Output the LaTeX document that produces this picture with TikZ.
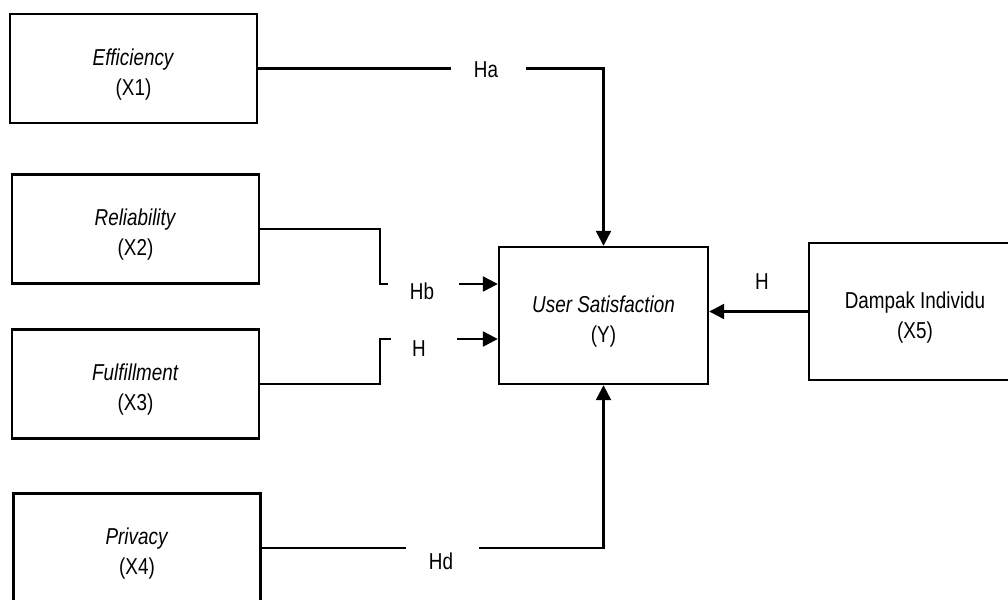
\documentclass[tikz,border=0pt]{standalone}
\usepackage{fontspec}
\setmainfont{Liberation Sans}[FakeStretch=0.82]
\usetikzlibrary{arrows.meta,positioning}
\newcommand{\vlift}{\rule{0pt}{28pt}}

\begin{document}
\begin{tikzpicture}[x=1pt,y=-1pt,line width=2.4pt,
    font=\fontsize{23}{30}\selectfont,
    var/.style={draw,minimum width=247pt,minimum height=109pt,align=center,inner sep=0pt},
    hyp/.style={inner sep=0pt},
    arr/.style={-{Triangle[length=15pt,width=15pt]}}]
    \useasboundingbox (0,0) rectangle (1008,599);

    \node[var] (eff) at (133.5,68.5) {\vlift\textit{Efficiency}\\(X1)};
    \node[var] (rel) at (135.5,229) {\vlift\textit{Reliability}\\(X2)};
    \node[var] (ful) at (135.5,384) {\vlift\textit{Fulfillment}\\(X3)};
    \node[var] (pri) at (137,548) {\vlift\textit{Privacy}\\(X4)};

    \node[var,minimum width=209pt,minimum height=137pt] (usr) at (603.5,315.5) {\vlift\textit{User Satisfaction}\\(Y)};
    \node[var,minimum width=212pt,minimum height=137pt] (dmp) at (915,311.5) {\vlift Dampak Individu\\(X5)};

    \node[hyp] (ha) at (486,70) {Ha};
    \node[hyp] (hb) at (422,291) {Hb};
    \node[hyp] (hc) at (419,349) {H};
    \node[hyp] (hd) at (441,561) {Hd};
    \node[hyp] (he) at (762,282) {H};

    \coordinate (haL) at (451,68.5);
    \coordinate (haR) at (526,68.5);
    \coordinate (hbK) at (380,284);
    \coordinate (hbL) at (388,284);
    \coordinate (hbR) at (459,284);
    \coordinate (hcK) at (380,339);
    \coordinate (hcL) at (391,339);
    \coordinate (hcR) at (457,339);
    \coordinate (hdL) at (406,548);
    \coordinate (hdR) at (479,548);

    \draw (eff.east) -- (haL);
    \draw[arr] (haR) -| (usr.north);
    \draw (rel.east) -| (hbK) -- (hbL);
    \draw[arr] (hbR) -- (hbR -| usr.west);
    \draw (ful.east) -| (hcK) -- (hcL);
    \draw[arr] (hcR) -- (hcR -| usr.west);
    \draw (pri.east) -- (hdL);
    \draw[arr] (hdR) -| (usr.south);
    \draw[arr] (dmp.west) -- (dmp.west -| usr.east);
\end{tikzpicture}
\end{document}
